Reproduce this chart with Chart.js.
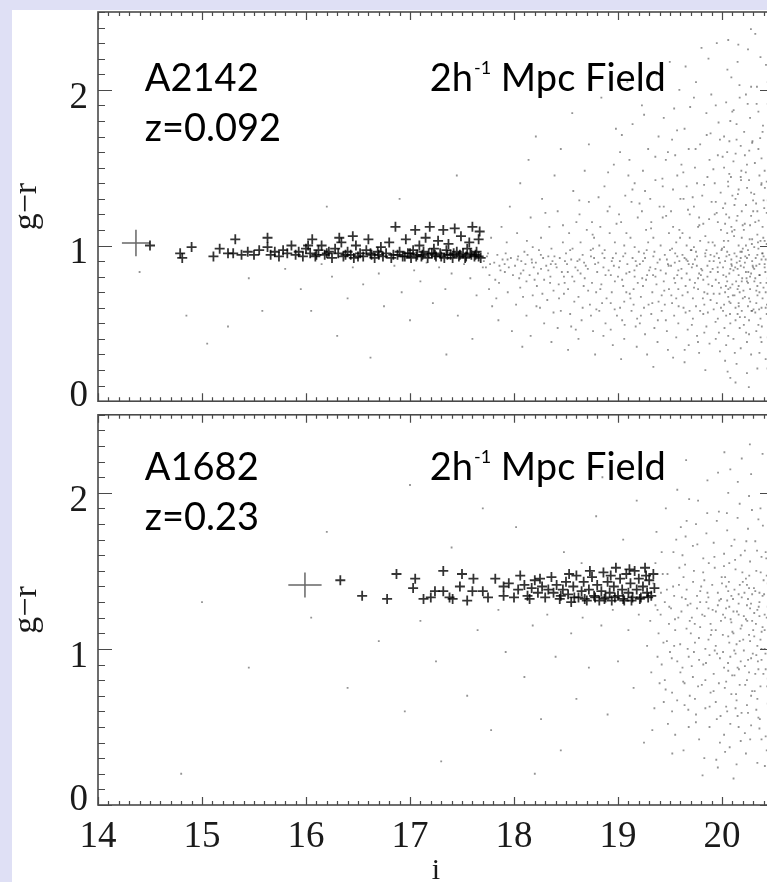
<!DOCTYPE html>
<html>
<head>
<meta charset="utf-8">
<script src="https://cdn.jsdelivr.net/npm/chart.js@4.4.1/dist/chart.umd.min.js"></script>
<style>
  html, body { margin: 0; padding: 0; width: 767px; height: 882px; overflow: hidden; background: #dfe0f5; }
  #sheet { position: absolute; left: 12px; top: 10px; width: 800px; height: 900px; background: #fff; }
  canvas { position: absolute; left: 0; }
  #top { top: 0; }
  #bottom { top: 408px; }
</style>
</head>
<body>
<div id="sheet"></div>
<canvas id="top" width="790" height="408"></canvas>
<canvas id="bottom" width="790" height="490"></canvas>
<script>
// axis ranges and tick labels
const xMin = 14, xMax = 20.5;
const yMin = 0, yMax = 2.5;
const xTickValues = [14, 15, 16, 17, 18, 19, 20];
const yTickValues = [0, 1, 2];

// panel annotations
const clusterNames = ['A2142', 'A1682'];
const redshifts = ['z=0.092', 'z=0.23'];

// big cross = [i, g-r, half width in i, half height in g-r]
const bigCrossTop = [14.365, 1.016, 0.135, 0.085];
const bigCrossBottom = [15.99, 1.41, 0.16, 0.08];

// cluster members (crosses), [i, g-r]
const crossesTop = [
  [14.50,1.00],[14.79,0.95],[14.81,0.92],[14.90,0.99],[15.11,0.93],[15.17,0.98],[15.25,0.95],[15.32,1.04],
  [15.30,0.95],[15.38,0.94],[15.44,0.96],[15.50,0.94],[15.55,0.97],[15.63,1.05],[15.63,0.99],[15.66,0.94],
  [15.70,0.96],[15.74,0.93],[15.78,0.97],[15.82,0.95],[15.86,1.00],[15.90,0.94],[15.93,0.96],[15.97,0.93],
  [16.00,0.98],[16.06,1.04],[16.04,0.95],[16.09,0.93],[16.12,0.97],[16.15,1.00],[16.18,0.94],[16.22,0.96],
  [16.25,0.92],[16.28,0.98],[16.31,0.95],[16.34,1.02],[16.36,0.93],[16.40,0.96],[16.43,0.94],[16.46,0.92],
  [16.48,1.00],[16.52,0.95],[16.55,0.93],[16.58,0.97],[16.60,1.04],[16.63,0.94],[16.66,0.92],[16.69,0.96],
  [16.72,0.99],[16.74,0.93],[16.77,0.95],[16.80,1.02],[16.82,0.92],[16.86,1.12],[16.88,0.94],[16.90,0.96],
  [16.93,0.93],[16.96,1.04],[16.98,0.95],[17.01,0.92],[17.03,0.97],[17.05,1.10],[17.07,0.94],[17.09,1.00],
  [17.11,0.93],[17.13,0.96],[17.15,1.05],[17.17,0.92],[17.19,1.12],[17.21,0.95],[17.23,0.98],[17.25,0.93],
  [17.27,1.03],[17.29,0.95],[17.32,1.10],[17.33,0.92],[17.35,0.97],[17.37,1.01],[17.39,0.94],[17.41,0.92],
  [17.43,1.11],[17.45,0.96],[17.47,0.93],[17.49,1.06],[17.51,0.95],[17.53,0.92],[17.55,0.98],[17.57,1.02],
  [17.59,0.94],[17.60,1.12],[17.62,0.93],[17.64,0.96],[17.66,1.04],[17.67,1.09],[17.68,0.92],
  [16.84,0.94],[16.95,0.93],[17.00,0.95],[17.06,0.93],[17.12,0.94],[17.18,0.95],[17.24,0.94],[17.30,0.93],
  [17.36,0.94],[17.42,0.95],[17.48,0.94],[17.54,0.93],[17.58,0.95],[17.63,0.94],[17.66,0.93],[16.70,0.94],
  [16.62,0.95],[16.50,0.93],[16.38,0.94],[16.20,0.95],[16.10,0.94],[16.32,1.05],[16.45,1.06],[16.02,1.00]
];
const crossesBottom = [
  [16.33,1.44],[16.54,1.34],[16.78,1.32],[16.87,1.48],[17.03,1.39],[17.05,1.45],[17.13,1.32],[17.24,1.37],
  [17.32,1.50],[17.32,1.37],[17.41,1.32],[17.48,1.40],[17.50,1.48],[17.60,1.37],[17.61,1.45],[17.70,1.37],
  [17.82,1.45],[17.90,1.40],[17.90,1.34],[18.06,1.47],[18.04,1.38],[18.10,1.41],[18.13,1.34],[18.17,1.39],
  [18.20,1.44],[18.23,1.36],[18.27,1.40],[18.30,1.33],[18.33,1.38],[18.36,1.46],[18.38,1.36],[18.41,1.41],
  [18.44,1.32],[18.47,1.38],[18.50,1.43],[18.52,1.35],[18.55,1.30],[18.57,1.40],[18.60,1.47],[18.62,1.33],
  [18.65,1.37],[18.67,1.43],[18.70,1.31],[18.72,1.38],[18.75,1.46],[18.77,1.34],[18.80,1.41],[18.82,1.31],
  [18.84,1.37],[18.86,1.49],[18.88,1.33],[18.90,1.43],[18.92,1.36],[18.94,1.31],[18.96,1.40],[18.98,1.52],
  [19.00,1.34],[19.02,1.45],[19.04,1.38],[19.06,1.31],[19.08,1.48],[19.10,1.36],[19.12,1.42],[19.14,1.33],
  [19.16,1.50],[19.18,1.38],[19.20,1.45],[19.22,1.33],[19.24,1.40],[19.26,1.52],[19.28,1.36],[19.30,1.44],
  [19.32,1.34],[19.34,1.48],[19.35,1.39],
  [18.15,1.32],[18.45,1.34],[18.58,1.33],[18.68,1.32],[18.78,1.33],[18.87,1.32],[18.97,1.33],[19.05,1.32],
  [19.13,1.31],[19.21,1.32],[19.29,1.33],[18.25,1.45],[18.53,1.48],[18.73,1.50],[18.93,1.47],[19.11,1.51],
  [19.27,1.47],[17.20,1.33],[17.38,1.33],[17.55,1.31],[17.75,1.33],[17.95,1.42],[18.00,1.33]
];

// field galaxies (grey dots), [i, g-r]
const fieldTop = [
  [14.40,0.83],[14.85,0.55],[15.05,0.37],[15.25,0.48],[15.45,0.79],[15.58,0.58],[15.80,0.85],[15.95,0.72],
  [16.05,0.58],[16.15,0.88],[16.25,0.80],[16.30,0.42],[16.40,0.66],[16.45,0.86],[16.55,0.75],[16.62,0.28],
  [16.70,0.82],[16.75,0.61],[16.85,0.87],[16.92,0.70],[17.00,0.52],[17.04,0.84],[17.10,0.77],[17.16,0.89],
  [17.22,0.63],[17.28,0.86],[17.34,0.72],[17.40,0.82],[17.46,0.55],[17.52,0.88],[17.58,0.79],[17.64,0.68],
  [17.70,0.86],[16.90,1.30],[17.45,1.45],[17.60,0.40],[17.35,0.30],[16.20,1.25],
  [17.71,0.90],[17.73,0.86],[17.74,0.93],[17.76,0.72],[17.77,0.88],[17.78,1.05],[17.79,0.61],[17.75,0.95],
  [17.81,0.89],[17.82,0.78],[17.84,0.94],[17.85,0.52],[17.86,0.87],[17.88,1.12],[17.89,0.91],[17.83,0.66],[17.87,0.84],
  [17.91,0.88],[17.92,0.95],[17.94,0.70],[17.95,0.86],[17.96,1.25],[17.97,0.92],[17.98,0.45],[17.99,0.81],[17.93,1.02],
  [18.01,0.87],[18.02,0.62],[18.04,0.93],[18.05,0.79],[18.06,1.40],[18.07,0.90],[18.08,0.35],[18.09,0.84],[18.03,1.08],[18.06,0.73],[18.10,0.96],
  [18.11,0.88],[18.12,0.55],[18.13,0.94],[18.15,0.81],[18.16,1.18],[18.17,0.91],[18.18,0.68],[18.19,0.86],[18.14,1.55],[18.18,0.99],[18.12,0.77],[18.16,0.42],
  [18.21,0.89],[18.22,0.74],[18.24,0.97],[18.25,0.60],[18.26,0.85],[18.27,1.30],[18.28,0.92],[18.29,0.50],[18.23,0.82],[18.26,1.05],[18.29,0.78],[18.21,1.70],
  [18.31,0.87],[18.32,0.65],[18.33,0.93],[18.34,1.12],[18.35,0.80],[18.36,0.38],[18.37,0.90],[18.38,0.71],[18.39,1.45],[18.33,0.84],[18.36,0.98],[18.38,0.57],[18.40,0.88],
  [18.41,0.86],[18.42,1.22],[18.43,0.75],[18.44,0.92],[18.45,0.58],[18.46,0.83],[18.47,1.02],[18.48,0.69],[18.49,0.90],[18.42,0.47],[18.45,1.62],[18.48,0.80],[18.50,0.95],
  [18.51,0.88],[18.52,0.72],[18.53,1.08],[18.54,0.56],[18.55,0.91],[18.56,0.80],[18.57,1.35],[18.58,0.64],[18.59,0.86],[18.52,0.33],[18.54,0.97],[18.56,1.85],[18.58,0.77],[18.60,1.15],[18.55,0.48],
  [18.61,0.90],[18.62,0.67],[18.63,1.20],[18.64,0.82],[18.65,0.52],[18.66,0.94],[18.67,0.74],[18.68,1.48],[18.69,0.87],[18.62,0.40],[18.64,1.02],[18.66,0.60],[18.68,0.79],[18.70,1.10],[18.63,0.91],
  [18.71,0.85],[18.72,1.28],[18.73,0.62],[18.74,0.93],[18.75,0.76],[18.76,0.45],[18.77,1.05],[18.78,0.88],[18.79,0.70],[18.72,1.65],[18.74,0.55],[18.76,0.98],[18.78,0.30],[18.80,0.83],[18.75,1.15],[18.77,0.92],
  [18.81,0.89],[18.82,0.58],[18.83,1.12],[18.84,0.75],[18.85,0.95],[18.86,0.42],[18.87,1.38],[18.88,0.81],[18.89,0.66],[18.82,1.00],[18.84,1.95],[18.86,0.86],[18.88,0.50],[18.90,1.22],[18.83,0.72],[18.87,0.92],
  [18.91,0.84],[18.92,1.08],[18.93,0.63],[18.94,0.90],[18.95,0.36],[18.96,1.52],[18.97,0.77],[18.98,0.95],[18.99,0.55],[18.92,1.25],[18.94,0.70],[18.96,0.87],[18.98,1.75],[19.00,0.80],[18.93,0.46],[18.97,1.02],[18.95,0.92],
  [19.01,0.86],[19.02,0.60],[19.03,1.15],[19.04,0.78],[19.05,0.93],[19.06,0.40],[19.07,1.32],[19.08,0.70],[19.09,0.88],[19.02,1.60],[19.04,0.52],[19.06,1.00],[19.08,0.82],[19.10,1.45],[19.03,0.27],[19.05,0.74],[19.07,0.95],[19.09,2.05],[19.01,1.20],[19.06,0.64],
  [19.11,0.83],[19.12,1.05],[19.13,0.58],[19.14,0.92],[19.15,0.72],[19.16,1.40],[19.17,0.48],[19.18,0.87],[19.19,1.18],[19.12,0.66],[19.14,1.78],[19.16,0.80],[19.18,0.35],[19.20,0.96],[19.13,1.28],[19.15,0.62],[19.17,0.90],[19.19,0.76],[19.11,1.55],[19.16,0.99],
  [19.21,0.88],[19.22,0.55],[19.23,1.22],[19.24,0.74],[19.25,0.95],[19.26,0.43],[19.27,1.10],[19.28,0.81],[19.29,1.62],[19.22,0.67],[19.24,0.90],[19.26,1.35],[19.28,0.30],[19.30,0.84],[19.23,1.90],[19.25,0.60],[19.27,0.78],[19.29,1.02],[19.21,0.50],[19.26,0.92],[19.24,1.48],
  [19.31,0.86],[19.32,1.15],[19.33,0.63],[19.34,0.93],[19.35,0.47],[19.36,1.42],[19.37,0.75],[19.38,0.89],[19.39,1.70],[19.32,0.56],[19.34,1.05],[19.36,0.80],[19.38,0.38],[19.40,1.25],[19.33,0.70],[19.35,0.96],[19.37,2.10],[19.39,0.64],[19.31,1.30],[19.36,0.85],[19.34,0.22],
  [19.41,0.84],[19.42,0.58],[19.43,1.18],[19.44,0.77],[19.45,0.94],[19.46,1.55],[19.47,0.45],[19.48,0.88],[19.49,1.08],[19.42,0.68],[19.44,1.82],[19.46,0.82],[19.48,0.33],[19.50,0.97],[19.43,1.38],[19.45,0.62],[19.47,0.91],[19.49,0.72],[19.41,1.00],[19.46,0.52],[19.44,1.25],[19.48,1.60],
  [19.51,0.87],[19.52,0.63],[19.53,1.12],[19.54,0.79],[19.55,0.95],[19.56,0.41],[19.57,1.45],[19.58,0.72],[19.59,0.90],[19.52,1.68],[19.54,0.55],[19.56,1.02],[19.58,0.84],[19.60,1.30],[19.53,0.28],[19.55,0.76],[19.57,0.93],[19.59,2.00],[19.51,1.22],[19.56,0.66],[19.54,1.88],[19.58,0.50],[19.52,0.98],[19.57,0.81],[19.55,1.58],[19.59,1.10],
  [19.61,0.85],[19.62,1.08],[19.63,0.60],[19.64,0.92],[19.65,0.74],[19.66,1.38],[19.67,0.46],[19.68,0.88],[19.69,1.20],[19.62,0.68],[19.64,1.75],[19.66,0.82],[19.68,0.36],[19.70,0.97],[19.63,1.30],[19.65,0.57],[19.67,0.90],[19.69,0.78],[19.61,1.52],[19.66,1.00],[19.64,0.25],[19.68,1.62],[19.62,0.94],[19.67,0.70],[19.65,2.15],[19.69,1.05],
  [19.71,0.86],[19.72,0.53],[19.73,1.25],[19.74,0.76],[19.75,0.96],[19.76,0.42],[19.77,1.12],[19.78,0.82],[19.79,1.65],[19.72,0.66],[19.74,0.91],[19.76,1.40],[19.78,0.31],[19.80,0.85],[19.73,1.95],[19.75,0.61],[19.77,0.79],[19.79,1.03],[19.71,0.49],[19.76,0.93],[19.74,1.50],[19.78,1.18],[19.72,0.88],[19.77,0.72],[19.75,2.05],[19.79,0.58],[19.73,0.99],
  [19.81,0.84],[19.82,1.14],[19.83,0.62],[19.84,0.93],[19.85,0.48],[19.86,1.44],[19.87,0.75],[19.88,0.90],[19.89,1.72],[19.82,0.56],[19.84,1.06],[19.86,0.80],[19.88,0.37],[19.90,1.28],[19.83,0.70],[19.85,0.97],[19.87,2.20],[19.89,0.65],[19.81,1.32],[19.86,0.87],[19.84,0.20],[19.88,1.55],[19.82,0.78],[19.87,1.02],[19.85,1.85],[19.89,0.94],[19.83,0.44],[19.86,0.69],
  [19.91,0.85],[19.92,0.59],[19.93,1.20],[19.94,0.78],[19.95,0.95],[19.96,1.58],[19.97,0.44],[19.98,0.89],[19.99,1.10],[19.92,0.69],[19.94,1.90],[19.96,0.83],[19.98,0.32],[20.00,0.98],[19.93,1.40],[19.95,0.63],[19.97,0.92],[19.99,0.73],[19.91,1.02],[19.96,0.53],[19.94,1.28],[19.98,1.68],[19.92,0.90],[19.97,0.76],[19.95,2.30],[19.99,0.60],[19.93,1.00],[19.96,1.15],[19.94,0.40],
  [20.01,0.86],[20.02,0.62],[20.03,1.14],[20.04,0.80],[20.05,0.96],[20.06,0.42],[20.07,1.46],[20.08,0.73],[20.09,0.91],[20.02,1.70],[20.04,0.55],[20.06,1.03],[20.08,0.85],[20.10,1.32],[20.03,0.26],[20.05,0.77],[20.07,0.94],[20.09,2.08],[20.01,1.24],[20.06,0.67],
  [20.04,1.92],[20.08,0.50],[20.02,0.99],[20.07,0.82],[20.05,1.60],[20.09,1.12],[20.03,0.70],[20.06,1.38],[20.04,0.36],[20.08,1.80],[20.01,0.58],[20.05,1.08],[20.07,0.64],[20.09,0.88],[20.02,1.50],[20.06,2.32],[20.03,0.90],[20.08,0.15],[20.04,1.20],[20.10,0.75],
  [20.11,0.84],[20.12,1.10],[20.13,0.60],[20.14,0.93],[20.15,0.72],[20.16,1.36],[20.17,0.47],[20.18,0.87],[20.19,1.22],[20.12,0.68],[20.14,1.78],[20.16,0.81],[20.18,0.34],[20.20,0.98],[20.13,1.30],[20.15,0.56],[20.17,0.90],[20.19,0.77],[20.11,1.54],[20.16,1.00],
  [20.14,0.24],[20.18,1.64],[20.12,0.95],[20.17,0.70],[20.15,2.18],[20.19,1.05],[20.13,0.52],[20.16,0.63],[20.14,1.16],[20.18,1.44],[20.11,0.40],[20.15,0.85],[20.17,1.95],[20.19,0.58],[20.12,1.26],[20.16,0.74],[20.13,0.12],[20.18,0.92],[20.14,1.68],[20.20,0.66],
  [20.21,0.86],[20.22,0.54],[20.23,1.26],[20.24,0.77],[20.25,0.97],[20.26,0.43],[20.27,1.13],[20.28,0.82],[20.29,1.66],[20.22,0.67],[20.24,0.92],[20.26,1.42],[20.28,0.30],[20.30,0.86],[20.23,1.97],[20.25,0.61],[20.27,0.80],[20.29,1.04],[20.21,0.49],[20.26,0.94],
  [20.24,1.52],[20.28,1.19],[20.22,0.89],[20.27,0.72],[20.25,2.26],[20.29,0.58],[20.23,1.00],[20.26,0.66],[20.24,0.18],[20.28,1.34],[20.21,1.10],[20.25,0.76],[20.27,1.82],[20.29,0.90],[20.22,1.58],[20.26,0.52],[20.23,0.83],[20.28,2.02],[20.24,0.38],[20.30,1.22],
  [20.31,0.85],[20.32,1.15],[20.33,0.63],[20.34,0.94],[20.35,0.49],[20.36,1.45],[20.37,0.76],[20.38,0.91],[20.39,1.73],[20.32,0.57],[20.34,1.07],[20.36,0.81],[20.38,0.38],[20.40,1.29],[20.33,0.71],[20.35,0.98],[20.37,2.21],[20.39,0.66],[20.31,1.33],[20.36,0.88],
  [20.34,0.21],[20.38,1.56],[20.32,0.79],[20.37,1.03],[20.35,1.86],[20.39,0.95],[20.33,0.45],[20.36,0.70],[20.34,1.22],[20.38,0.60],[20.31,0.99],[20.35,1.62],[20.37,0.53],[20.39,1.12],[20.32,2.36],[20.36,0.31],[20.33,0.87],[20.38,1.40],[20.34,0.74],[20.40,0.93],
  [20.41,0.86],[20.42,0.60],[20.43,1.21],[20.44,0.79],[20.45,0.96],[20.46,1.59],[20.47,0.45],[20.48,0.90],[20.49,1.11],[20.42,0.70],[20.44,1.91],[20.46,0.84],[20.48,0.33],[20.43,1.41],[20.45,0.64],[20.47,0.93],[20.49,0.74],[20.41,1.03],[20.46,0.54],[20.44,1.29],
  [20.48,1.69],[20.42,0.91],[20.47,0.77],[20.45,2.31],[20.49,0.61],[20.43,1.01],[20.46,1.16],[20.44,0.41],[20.48,1.05],[20.41,1.48],[20.45,0.72],[20.47,1.84],[20.49,0.85],[20.42,0.27],[20.46,1.36],[20.43,0.56],[20.48,0.98],[20.44,2.05],[20.47,0.68],[20.41,0.88],
  [18.813,1.31],[18.847,0.63],[18.872,0.97],[18.905,1.47],[18.931,0.81],[18.968,0.59],[18.986,1.14],
  [19.018,0.90],[19.037,1.71],[19.064,0.49],[19.081,1.08],[19.113,0.69],[19.139,1.36],[19.158,0.84],[19.184,0.53],[19.207,1.27],[19.233,0.79],[19.251,1.84],[19.276,0.97],[19.294,0.62],
  [19.318,1.11],[19.337,0.81],[19.359,1.57],[19.383,0.52],[19.402,0.91],[19.427,1.43],[19.445,0.71],[19.463,1.19],[19.487,0.87],[19.498,2.18],
  [19.513,0.68],[19.529,1.36],[19.546,0.89],[19.568,1.74],[19.583,0.61],[19.597,1.05],[19.612,0.79],[19.628,1.47],[19.641,0.33],[19.657,0.91],[19.673,1.23],[19.688,0.58],[19.694,1.89],
  [19.706,0.97],[19.718,1.31],[19.731,0.73],[19.746,1.62],[19.758,0.87],[19.769,0.38],[19.782,1.13],[19.797,0.81],[19.803,2.27],[19.816,0.66],[19.828,1.39],[19.839,0.95],[19.853,1.71],[19.864,0.57],[19.876,1.17],[19.889,0.83],[19.897,1.97],
  [19.905,0.74],[19.917,1.49],[19.926,0.93],[19.938,0.51],[19.949,1.21],[19.958,0.86],[19.967,1.79],[19.976,0.69],[19.987,1.34],[19.995,0.97],
  [20.006,1.57],[20.013,0.81],[20.024,0.47],[20.031,1.27],[20.043,0.93],[20.052,2.13],[20.061,0.72],[20.069,1.18],[20.077,0.56],[20.086,1.44],[20.094,0.87],[20.099,1.86],
  [20.104,0.68],[20.116,1.06],[20.123,0.31],[20.131,1.59],[20.142,0.89],[20.153,1.33],[20.161,0.61],[20.168,2.03],[20.177,0.96],[20.186,1.48],[20.194,0.79],[20.199,1.13],
  [20.206,0.71],[20.213,1.73],[20.224,0.93],[20.232,0.44],[20.241,1.37],[20.253,0.83],[20.262,1.61],[20.271,0.64],[20.278,2.39],[20.287,1.01],[20.295,0.87],[20.299,1.29],
  [20.303,0.59],[20.316,1.53],[20.324,0.92],[20.333,1.91],[20.341,0.68],[20.353,1.16],[20.362,0.81],[20.371,0.41],[20.378,1.39],[20.387,0.95],[20.394,1.77],[20.399,0.73],
  [20.406,1.24],[20.417,0.83],[20.423,2.16],[20.432,0.62],[20.443,1.52],[20.451,0.97],[20.462,0.29],[20.471,1.33],[20.477,0.86],[20.486,1.97],[20.493,0.68],[20.497,1.21],
  [20.018,1.03],[20.037,0.74],[20.058,1.41],[20.082,0.63],[20.097,1.09],[20.112,1.87],[20.136,0.77],[20.149,1.19],[20.172,0.54],[20.183,1.42],
  [20.219,1.14],[20.236,0.79],[20.247,1.91],[20.266,1.04],[20.283,0.58],[20.311,0.77],[20.328,1.27],[20.346,1.02],[20.367,1.69],[20.383,0.48],
  [20.412,1.37],[20.428,0.76],[20.447,1.08],[20.458,1.82],[20.466,0.63],[20.481,1.26],[20.489,0.92],[20.054,0.19],[20.157,2.29],[20.258,0.09],
  [20.336,2.02],[20.438,0.21],[20.071,1.67],[20.191,0.96],[20.293,1.67],[20.397,1.05],[20.468,0.97],[20.127,0.86],[20.229,1.47],[20.357,0.59],
  [18.034,0.91],[18.087,0.67],[18.124,1.03],[18.173,0.89],[18.216,0.61],[18.258,0.94],[18.302,1.21],[18.347,0.76],[18.389,0.93],[18.433,0.66],
  [18.471,1.13],[18.517,0.83],[18.563,0.98],[18.594,0.46],[18.628,1.29],[18.674,0.89],[18.713,0.71],[18.756,1.07],[18.792,0.59],[18.065,0.82],
  [18.198,0.78],[18.354,0.88],[18.487,0.76],[18.613,0.84],[18.738,0.97],[17.856,0.76],[17.912,0.83],[17.764,0.81],[17.938,0.91],[18.273,0.69]
];
const fieldBottom = [
  [15.45,0.88],[16.05,1.20],[16.40,0.75],[16.70,1.05],[16.95,0.60],[17.10,1.18],[17.25,0.92],[17.40,1.65],
  [17.55,0.70],[17.65,1.12],[17.78,0.48],[17.85,1.25],[17.92,0.98],[18.02,1.78],[18.10,0.82],[18.18,1.15],
  [18.26,0.55],[18.32,1.22],[18.40,0.95],[18.48,1.62],[18.55,1.10],[18.60,0.68],[18.66,1.20],[18.72,0.88],
  [18.79,1.85],[18.84,1.15],[18.90,0.58],[18.95,1.25],[19.00,0.92],[19.05,1.70],[19.10,1.12],[19.15,0.75],
  [19.20,1.22],[19.25,0.40],[19.28,1.02],[18.45,0.35],[17.30,0.28],[16.20,1.75],[17.00,2.05],[18.85,2.10],
  [19.18,1.95],[18.20,0.20],[15.00,1.30],[14.80,0.20],[17.70,1.90],[18.65,1.55],
  [19.31,1.18],[19.32,0.85],[19.34,1.42],[19.35,0.62],[19.36,1.28],[19.37,1.75],[19.38,0.95],[19.39,1.10],[19.33,0.48],[19.36,1.55],[19.38,1.25],[19.40,0.78],
  [19.41,1.22],[19.42,0.90],[19.43,1.48],[19.44,0.66],[19.45,1.30],[19.46,1.90],[19.47,1.05],[19.48,0.52],[19.49,1.16],[19.42,1.62],[19.45,0.80],[19.47,1.38],[19.50,0.98],
  [19.51,1.26],[19.52,0.72],[19.53,1.40],[19.54,1.02],[19.55,0.45],[19.56,1.70],[19.57,0.92],[19.58,1.20],[19.59,1.52],[19.52,0.60],[19.55,1.12],[19.57,2.02],[19.60,0.85],[19.54,1.34],
  [19.61,1.24],[19.62,0.88],[19.63,1.46],[19.64,0.64],[19.65,1.32],[19.66,1.82],[19.67,1.00],[19.68,0.50],[19.69,1.18],[19.62,1.60],[19.64,0.78],[19.66,1.38],[19.68,0.95],[19.70,1.10],[19.63,0.35],[19.65,1.72],[19.67,1.28],[19.69,0.70],
  [19.71,1.20],[19.72,0.82],[19.73,1.50],[19.74,1.04],[19.75,0.58],[19.76,1.34],[19.77,1.95],[19.78,0.93],[19.79,1.14],[19.72,1.66],[19.74,0.68],[19.76,1.26],[19.78,0.42],[19.80,1.40],[19.73,0.98],[19.75,1.80],[19.77,0.76],[19.79,1.30],
  [19.81,1.22],[19.82,0.90],[19.83,1.44],[19.84,0.62],[19.85,1.30],[19.86,2.08],[19.87,1.06],[19.88,0.50],[19.89,1.16],[19.82,1.58],[19.84,0.80],[19.86,1.36],[19.88,0.96],[19.90,1.12],[19.83,0.30],[19.85,1.74],[19.87,1.26],[19.89,0.72],[19.84,1.00],
  [19.91,1.25],[19.92,0.84],[19.93,1.52],[19.94,1.02],[19.95,0.55],[19.96,1.36],[19.97,1.88],[19.98,0.94],[19.99,1.18],[19.92,1.68],[19.94,0.66],[19.96,1.28],[19.98,0.40],[20.00,1.42],[19.93,0.99],[19.95,1.82],[19.97,0.78],[19.99,1.32],[19.94,1.12],[19.96,0.24],
  [20.01,1.22],[20.02,0.88],[20.03,1.46],[20.04,0.63],[20.05,1.31],[20.06,2.00],[20.07,1.04],[20.08,0.52],[20.09,1.17],[20.02,1.61],[20.04,0.79],[20.06,1.37],[20.08,0.95],[20.10,1.11],
  [20.03,0.34],[20.05,1.76],[20.07,1.27],[20.09,0.71],[20.01,0.98],[20.04,1.40],[20.06,0.86],[20.08,2.15],[20.03,1.20],[20.05,0.60],[20.07,1.55],[20.09,1.34],[20.02,0.45],[20.06,1.08],
  [20.11,1.24],[20.12,0.83],[20.13,1.51],[20.14,1.03],[20.15,0.57],[20.16,1.35],[20.17,1.93],[20.18,0.92],[20.19,1.15],[20.12,1.70],[20.14,0.67],[20.16,1.29],[20.18,0.41],[20.20,1.43],
  [20.13,0.97],[20.15,1.84],[20.17,0.77],[20.19,1.33],[20.11,1.10],[20.14,0.26],[20.16,1.22],[20.18,1.60],[20.12,1.38],[20.15,0.88],[20.17,1.05],[20.19,2.22],[20.13,0.62],[20.16,0.50],
  [20.21,1.21],[20.22,0.89],[20.23,1.45],[20.24,0.64],[20.25,1.32],[20.26,1.98],[20.27,1.05],[20.28,0.51],[20.29,1.18],[20.22,1.63],[20.24,0.80],[20.26,1.39],[20.28,0.94],[20.30,1.12],[20.23,0.33],
  [20.25,1.77],[20.27,1.26],[20.29,0.73],[20.21,0.99],[20.24,1.41],[20.26,0.85],[20.28,2.12],[20.23,1.19],[20.25,0.59],[20.27,1.56],[20.29,1.35],[20.22,0.46],[20.26,1.09],[20.24,1.28],[20.28,0.70],
  [20.31,1.23],[20.32,0.84],[20.33,1.50],[20.34,1.02],[20.35,0.56],[20.36,1.36],[20.37,1.90],[20.38,0.93],[20.39,1.14],[20.32,1.69],[20.34,0.68],[20.36,1.30],[20.38,0.42],[20.40,1.44],[20.33,0.96],
  [20.35,1.83],[20.37,0.76],[20.39,1.34],[20.31,1.08],[20.34,0.27],[20.36,1.21],[20.38,1.59],[20.32,1.37],[20.35,0.87],[20.37,1.06],[20.39,2.25],[20.33,0.61],[20.36,0.49],[20.34,1.25],[20.38,1.00],
  [20.41,1.22],[20.42,0.87],[20.43,1.47],[20.44,0.65],[20.45,1.33],[20.46,2.03],[20.47,1.04],[20.48,0.53],[20.49,1.16],[20.42,1.62],[20.44,0.81],[20.46,1.38],[20.48,0.96],[20.43,0.35],[20.45,1.75],
  [20.47,1.28],[20.49,0.72],[20.41,1.00],[20.44,1.42],[20.46,0.84],[20.48,2.18],[20.43,1.20],[20.45,0.58],[20.47,1.54],[20.49,1.31],[20.42,0.44],[20.46,1.10],[20.44,1.27],[20.48,0.69],[20.41,1.12],
  [19.413,1.36],[19.437,1.04],[19.458,0.74],[19.476,1.48],[19.493,1.27],[19.517,0.94],[19.533,1.62],[19.548,1.19],[19.569,0.67],[19.586,1.41],[19.598,1.03],
  [19.614,1.33],[19.627,0.79],[19.645,1.54],[19.659,1.13],[19.676,0.61],[19.684,1.96],[19.697,1.29],[19.709,0.89],[19.722,1.43],[19.738,1.16],[19.749,0.53],[19.763,1.67],[19.778,1.07],[19.791,1.37],
  [19.806,0.77],[19.819,1.49],[19.833,1.21],[19.846,0.91],[19.858,1.87],[19.869,1.33],[19.881,0.63],[19.893,1.09],[19.906,1.41],[19.919,0.73],[19.927,1.59],[19.941,1.24],[19.953,0.97],[19.962,2.13],[19.974,1.31],[19.986,0.57],[19.997,1.46],
  [20.008,1.09],[20.019,1.53],[20.027,0.75],[20.039,1.26],[20.047,1.87],[20.058,0.91],[20.066,1.43],[20.074,0.37],[20.083,1.19],[20.091,1.66],[20.098,0.83],
  [20.106,1.32],[20.118,0.99],[20.126,1.57],[20.135,0.71],[20.144,1.24],[20.152,2.07],[20.163,0.87],[20.171,1.41],[20.179,1.13],[20.188,0.59],[20.196,1.49],
  [20.204,1.06],[20.216,1.36],[20.223,0.77],[20.234,1.69],[20.243,1.18],[20.251,0.93],[20.262,1.47],[20.271,0.42],[20.279,1.29],[20.288,1.89],[20.296,0.97],
  [20.307,1.39],[20.314,0.73],[20.326,1.16],[20.337,1.63],[20.345,0.92],[20.353,1.27],[20.364,0.55],[20.372,1.49],[20.381,1.11],[20.393,1.79],[20.398,0.84],
  [20.405,1.35],[20.418,0.97],[20.426,1.58],[20.435,0.76],[20.447,1.26],[20.456,2.09],[20.463,0.89],[20.474,1.44],[20.482,1.07],[20.491,0.62],[20.497,1.36],
  [19.522,0.33],[19.655,2.21],[19.813,0.19],[19.945,0.29],[20.111,0.17],[20.268,2.31],[20.412,0.25],[19.604,1.78],[19.873,1.55],[20.023,2.26]
];

const toXY = arr => arr.map(p => ({ x: p[0], y: p[1] }));
const serif = 'Liberation Serif';

// inward tick marks on all four sides, the frame, and the y tick labels
const framePlugin = {
  id: 'frame',
  afterDraw(chart) {
    const { ctx, chartArea: a, scales: { x, y } } = chart;
    ctx.save();
    ctx.strokeStyle = '#4a4a4a';
    ctx.lineWidth = 1.2;
    ctx.beginPath();
    for (let i = 0; i <= 65; i++) {
      const px = Math.round(x.getPixelForValue(xMin + i / 10)) + 0.5;
      const len = i % 10 === 0 ? 8 : 4;
      ctx.moveTo(px, a.bottom); ctx.lineTo(px, a.bottom - len);
      ctx.moveTo(px, a.top); ctx.lineTo(px, a.top + len);
    }
    for (let i = 0; i <= 25; i++) {
      const py = Math.round(y.getPixelForValue(yMin + i / 10)) + 0.5;
      const len = i % 10 === 0 ? 14 : 7;
      ctx.moveTo(a.left, py); ctx.lineTo(a.left + len, py);
      ctx.moveTo(a.right, py); ctx.lineTo(a.right - len, py);
    }
    ctx.stroke();
    ctx.lineWidth = 1.6;
    ctx.strokeRect(a.left, a.top, a.right - a.left, a.bottom - a.top);

    // y labels: the one at the bottom corner sits a little above its tick
    ctx.fillStyle = '#1a1a1a';
    ctx.font = '37px "' + serif + '"';
    ctx.textAlign = 'right';
    ctx.textBaseline = 'middle';
    yTickValues.forEach(v => {
      const shift = v === yMin ? -5 : 8;
      ctx.fillText(String(v), a.left - 10, y.getPixelForValue(v) + shift);
    });
    ctx.restore();
  }
};

// cluster name, redshift and field size written inside each panel
const panelTextPlugin = {
  id: 'panelText',
  afterDatasetsDraw(chart, args, o) {
    const { ctx, scales: { x, y } } = chart;
    ctx.save();
    ctx.fillStyle = '#000';
    ctx.textBaseline = 'alphabetic';
    ctx.textAlign = 'left';
    const big = '38px Lato';
    ctx.font = big;
    ctx.fillText(o.name, x.getPixelForValue(o.left), y.getPixelForValue(o.line1));
    ctx.fillText(o.z, x.getPixelForValue(o.left), y.getPixelForValue(o.line2));
    let fx = x.getPixelForValue(o.fieldLeft);
    const fy = y.getPixelForValue(o.line1);
    ctx.fillText('2h', fx, fy);
    fx += ctx.measureText('2h').width + 1;
    ctx.font = '18px Lato';
    ctx.fillText('-1', fx, fy - 17);
    fx += ctx.measureText('-1').width;
    ctx.font = big;
    ctx.fillText(' Mpc Field', fx, fy);
    ctx.restore();
  }
};

function makePanel(canvasId, idx, fieldPts, crossPts, bigCross, isBottom) {
  const [bx, by, bdx, bdy] = bigCross;
  return new Chart(document.getElementById(canvasId), {
    type: 'scatter',
    data: {
      datasets: [
        {
          data: toXY(fieldPts),
          pointStyle: 'rect',
          pointRadius: 1.3,
          borderWidth: 0,
          backgroundColor: 'rgba(60,60,60,0.55)'
        },
        {
          data: toXY(crossPts),
          pointStyle: 'cross',
          pointRadius: 5,
          borderWidth: 1.8,
          borderColor: 'rgba(0,0,0,0.8)'
        },
        {
          data: [{ x: bx - bdx, y: by }, { x: bx + bdx, y: by }],
          showLine: true, pointRadius: 0, borderWidth: 1.5, borderColor: '#666'
        },
        {
          data: [{ x: bx, y: by - bdy }, { x: bx, y: by + bdy }],
          showLine: true, pointRadius: 0, borderWidth: 1.5, borderColor: '#666'
        }
      ]
    },
    options: {
      responsive: false,
      animation: false,
      events: [],
      devicePixelRatio: 1,
      layout: { padding: { left: 0, right: 16, top: isBottom ? 0 : 12, bottom: 0 } },
      plugins: {
        legend: { display: false },
        tooltip: { enabled: false },
        panelText: {
          name: clusterNames[idx], z: redshifts[idx],
          left: 14.45, fieldLeft: 17.19,
          line1: isBottom ? 2.08 : 1.99,
          line2: isBottom ? 1.76 : 1.67
        }
      },
      scales: {
        x: {
          type: 'linear', min: xMin, max: xMax,
          grid: { display: false }, border: { display: false },
          ticks: { display: isBottom, font: { family: serif, size: 37 }, color: '#1a1a1a', padding: 2, maxRotation: 0 },
          afterBuildTicks: s => { s.ticks = xTickValues.map(v => ({ value: v })); },
          afterFit: s => {
            s.height = isBottom ? 93 : 0;
            s.paddingLeft = s.paddingRight = 0;
          },
          title: { display: isBottom, text: 'i', font: { family: serif, size: 30 }, color: '#1a1a1a', padding: { bottom: 9 } }
        },
        y: {
          type: 'linear', min: yMin, max: yMax,
          grid: { display: false }, border: { display: false },
          ticks: { display: false },
          afterBuildTicks: s => { s.ticks = yTickValues.map(v => ({ value: v })); },
          afterFit: s => {
            s.width = 98;
            s.paddingTop = s.paddingBottom = 0;
          },
          title: { display: true, text: 'g\u2212r', font: { family: serif, size: 34 }, color: '#1a1a1a', padding: { top: 7 } }
        }
      }
    },
    plugins: [framePlugin, panelTextPlugin]
  });
}

makePanel('top', 0, fieldTop, crossesTop, bigCrossTop, false);
makePanel('bottom', 1, fieldBottom, crossesBottom, bigCrossBottom, true);
</script>
</body>
</html>
